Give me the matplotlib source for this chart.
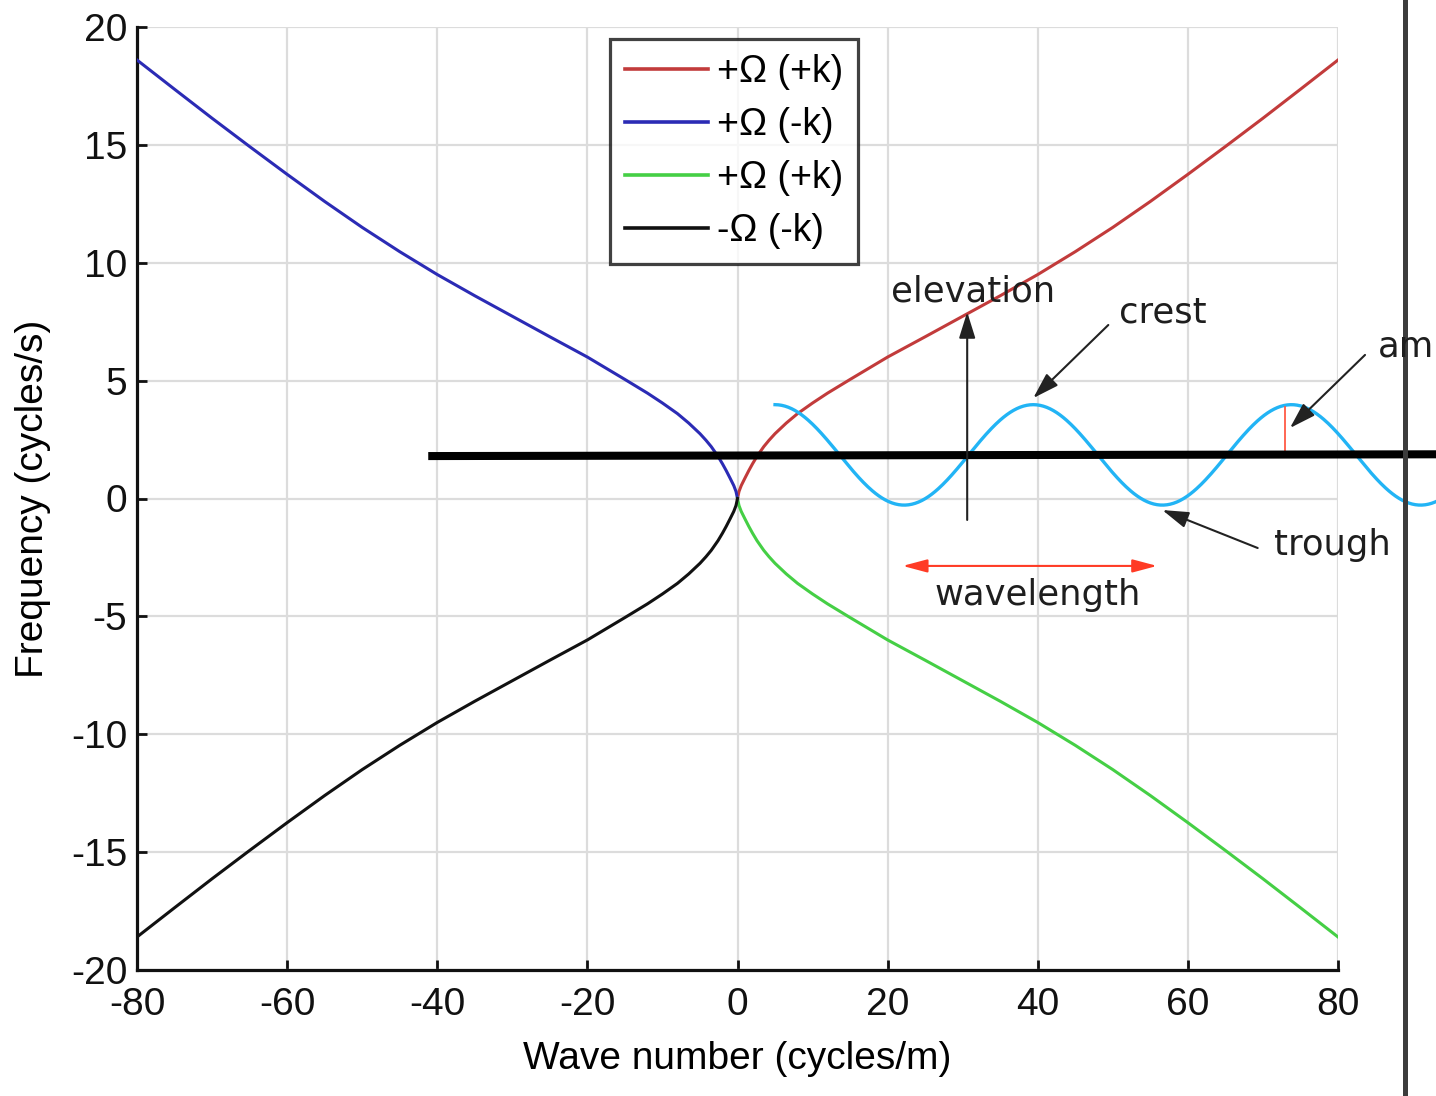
import matplotlib
matplotlib.use("Agg")
import matplotlib.pyplot as plt
import numpy as np

# ---- data ----
k_pos = [0, 0.2, 0.5, 1.0, 1.5, 2.0, 2.6, 3.5, 4.2, 5, 6.5, 8, 10, 12, 15, 20, 25, 30, 35, 40, 45, 50, 55, 60, 65, 70, 75, 80]
f_pos = [0, 0.3, 0.55, 0.87, 1.18, 1.47, 1.79, 2.2, 2.47, 2.75, 3.2, 3.6, 4.05, 4.47, 5.05, 6.0, 6.86, 7.73, 8.6, 9.5, 10.47, 11.5, 12.6, 13.75, 14.93, 16.13, 17.36, 18.6]

k_neg = [-k for k in k_pos]
red_f = f_pos                       # +Omega (+k)
blue_f = f_pos                      # +Omega (-k)
green_f = [-f for f in f_pos]       # +Omega (+k) lower branch
black_f = [-f for f in f_pos]       # -Omega (-k)

legend_labels = ["+\u03a9 (+k)", "+\u03a9 (-k)", "+\u03a9 (+k)", "-\u03a9 (-k)"]
xticks = [-80, -60, -40, -20, 0, 20, 40, 60, 80]
yticks = [-20, -15, -10, -5, 0, 5, 10, 15, 20]

# illustrative wave overlay
wave_mid = 1.85
wave_amp = 2.13
wave_len = 34.4
wave_crest_k = 39.4
wave_k_start = 5.0
wave_k_end = 93.1

# horizontal bar
bar_k = [-41.2, 93.1]
bar_f = [1.80, 1.875]

plt.rcParams['font.family'] = ['Liberation Sans', 'DejaVu Sans']
plt.rcParams['axes.unicode_minus'] = False

fig = plt.figure(figsize=(14.36, 10.96), dpi=100)
ax = fig.add_axes([137/1436, 1-970/1096, 1201/1436, 943/1096])

c_red = '#c23b3b'
c_blue = '#2b2bb5'
c_green = '#45cf45'
c_black = '#111111'

ax.plot(k_pos, red_f, color=c_red, lw=2.2, label=legend_labels[0], zorder=3)
ax.plot(k_neg, blue_f, color=c_blue, lw=2.2, label=legend_labels[1], zorder=3)
ax.plot(k_pos, green_f, color=c_green, lw=2.2, label=legend_labels[2], zorder=3)
ax.plot(k_neg, black_f, color=c_black, lw=2.2, label=legend_labels[3], zorder=3)

ax.set_xlim(-80, 80)
ax.set_ylim(-20, 20)
ax.set_xticks(xticks)
ax.set_yticks(yticks)
ax.grid(True, color='#dcdcdc', lw=1.6)
ax.set_axisbelow(True)
for s in ['top', 'right']:
    ax.spines[s].set_visible(False)
for s in ['left', 'bottom']:
    ax.spines[s].set_linewidth(2.3)
    ax.spines[s].set_color('#111111')
ax.tick_params(direction='in', length=7, width=2, labelsize=28, colors='#111111')
ax.tick_params(axis='x', pad=12)
ax.tick_params(axis='y', pad=7)
ax.set_xlabel("Wave number (cycles/m)", fontsize=28, labelpad=13)
ax.set_ylabel("Frequency (cycles/s)", fontsize=28, labelpad=14)

leg = ax.legend(loc='upper left', bbox_to_anchor=(0.394, 0.987), fontsize=27,
                frameon=True, fancybox=False, edgecolor='#111111',
                handlelength=2.2, handletextpad=0.25, labelspacing=0.45,
                borderpad=0.4, borderaxespad=0)
leg.get_frame().set_linewidth(2.3)
for line in leg.get_lines():
    line.set_linewidth(2.6)

# wave overlay
wk = np.linspace(wave_k_start, wave_k_end, 600)
wf = wave_mid + wave_amp * np.cos(2 * np.pi * (wk - wave_crest_k) / wave_len)
ax.plot(wk, wf, color='#22b4f5', lw=2.4, clip_on=False, zorder=4)

# thick black bar
ax.plot(bar_k, bar_f, color='black', lw=5.8, solid_capstyle='butt', clip_on=False, zorder=6)

# dark vertical border line
ax.axvline(88.9, ymin=-0.14, ymax=1.03, color='#3c3c3c', lw=3.6, clip_on=False, zorder=6)

# annotations
tfont = dict(family='DejaVu Sans', fontsize=25.5, color='#1e1e1e')
ax.text(31.4, 8.76, "elevation", ha='center', va='center', zorder=7, **tfont)
ax.text(56.6, 7.91, "crest", ha='center', va='center', zorder=7, **tfont)
ax.text(79.3, -1.97, "trough", ha='center', va='center', zorder=7, **tfont)
ax.text(40.0, -4.09, "wavelength", ha='center', va='center', zorder=7, **tfont)
ax.text(85.3, 6.43, "amplitude", ha='left', va='center', clip_on=False, zorder=7, **tfont)

arw = dict(arrowstyle='-|>,head_length=1.6,head_width=0.5', color='#222222', lw=1.5,
           shrinkA=0, shrinkB=0)
ax.annotate("", xy=(30.6, 7.91), xytext=(30.6, -0.91), arrowprops=arw, zorder=7)
ax.annotate("", xy=(39.4, 4.26), xytext=(49.4, 7.36), arrowprops=arw, zorder=7)
ax.annotate("", xy=(73.6, 2.99), xytext=(83.6, 6.09), arrowprops=arw, zorder=7,
            annotation_clip=False)
ax.annotate("", xy=(56.6, -0.49), xytext=(69.3, -2.10), arrowprops=arw, zorder=7)
ax.annotate("", xy=(55.9, -2.86), xytext=(22.0, -2.86),
            arrowprops=dict(arrowstyle='<|-|>,head_length=1.5,head_width=0.4', color='#ff3b25',
                            lw=1.5, shrinkA=0, shrinkB=0), zorder=7)
ax.plot([72.9, 72.9], [1.86, 3.88], color='#ff5a45', lw=1.3, zorder=5)

fig.savefig("out.png", dpi=100, facecolor='white')
